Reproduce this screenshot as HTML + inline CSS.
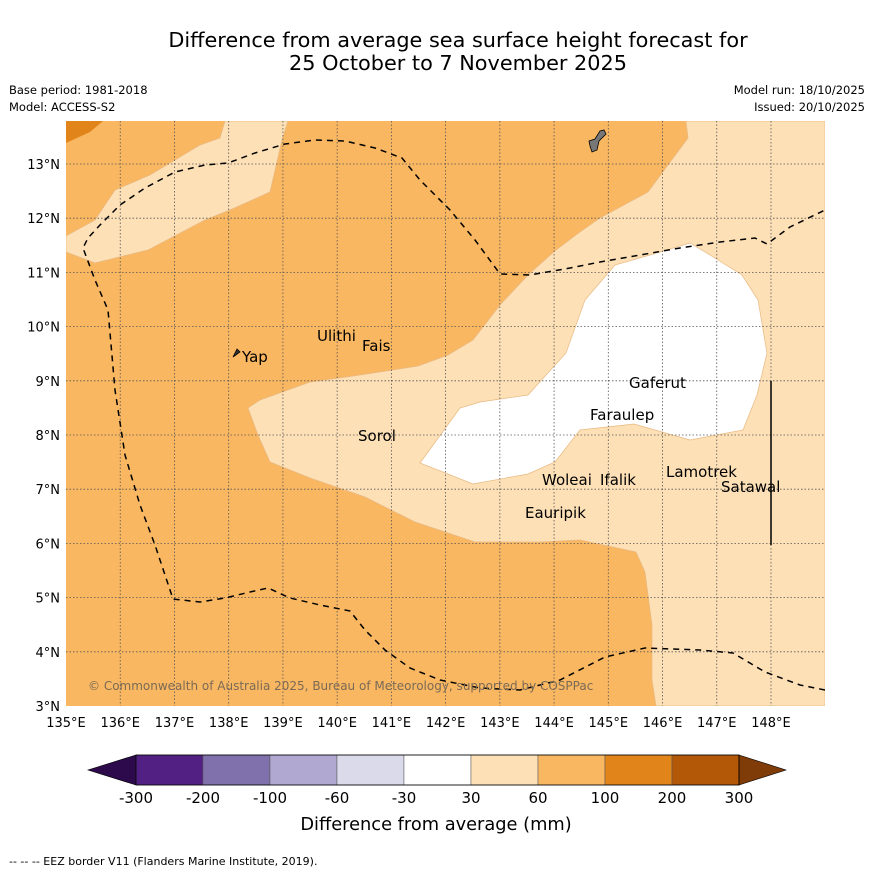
<!DOCTYPE html>
<html><head><meta charset="utf-8"><style>
body{margin:0;background:#fff;font-family:"Liberation Sans","DejaVu Sans",sans-serif;}
svg text{font-family:"DejaVu Sans","Liberation Sans",sans-serif;}
</style></head><body>
<svg width="873" height="873" viewBox="0 0 873 873">
<text x="458" y="47" font-size="20.8" text-anchor="middle">Difference from average sea surface height forecast for</text>
<text x="458" y="70" font-size="20.8" text-anchor="middle">25 October to 7 November 2025</text>
<text x="9" y="94" font-size="11.5">Base period: 1981-2018</text>
<text x="9" y="111" font-size="11.5">Model: ACCESS-S2</text>
<text x="865" y="94" font-size="11.5" text-anchor="end">Model run: 18/10/2025</text>
<text x="865" y="111" font-size="11.5" text-anchor="end">Issued: 20/10/2025</text>
<defs><clipPath id="mc"><rect x="66" y="121" width="759" height="585"/></clipPath></defs>
<g clip-path="url(#mc)">
<rect x="66" y="121" width="759" height="585" fill="#f9b762"/>
<polygon fill="#e1841a" points="66,121 103,121 90,132 66,143"/>
<polygon fill="#fde0b6" stroke="#e9b880" stroke-width="0.7" points="66,236 95,220 115,190 150,175 200,145 220,138 225,121 288,121 282,140 270,192 230,210 205,220 148,250 95,263 66,252"/>
<polygon fill="#fde0b6" stroke="#e9b880" stroke-width="0.7" points="686,121 688,138 648,192 600,218 580,232 556,250 528,275 500,305 473,340 448,355 418,366 360,375 310,382 260,400 248,408 258,435 270,462 310,478 365,497 415,522 475,542 540,542 580,540 636,552 645,572 652,625 652,680 656,706 825,706 825,121"/>
<polygon fill="#ffffff" stroke="#e9b880" stroke-width="0.7" points="585,300 615,265 650,255 690,243 710,255 742,275 758,300 767,353 757,395 743,430 690,440 634,424 580,430 555,462 528,474 473,484 420,463 460,408 480,402 528,395 566,353"/>
<g id="grid" stroke="#555" stroke-width="0.8" stroke-dasharray="1.5,2"></g>
<polyline fill="none" stroke="#000" stroke-width="1.5" stroke-dasharray="6,5" points="825,690 800,685 765,672 733,653 700,650 645,648 605,657 560,680 520,690 480,688 440,680 410,668 385,650 365,630 350,611 320,605 290,598 268,588 250,592 225,598 200,602 173,599 155,545 140,505 125,455 115,390 108,310 95,280 83,248 88,238 100,225 120,205 145,188 175,172 205,165 228,163 255,153 285,144 315,140 345,141 375,148 402,158 420,180 450,210 475,240 500,274 530,275 570,268 600,262 640,255 680,248 720,242 755,238 767,244 790,227 825,210"/>
<path d="M589,141 L595,139 L600,131 L604,130 L606,134 L599,141 L597,150 L592,152 L590,146 Z" fill="#777" stroke="#000" stroke-width="0.8"/>
<path d="M233,357 L237,349 L240,352 Z" fill="#333" stroke="#000" stroke-width="0.8"/>
<line x1="771" y1="381" x2="771" y2="545" stroke="#000" stroke-width="1.5"/>
<text x="88" y="690" font-size="12" fill="#7a6a55">© Commonwealth of Australia 2025, Bureau of Meteorology, supported by COSPPac</text>
<g font-size="15" fill="#000">
<text x="242" y="362">Yap</text>
<text x="317" y="341">Ulithi</text>
<text x="362" y="351">Fais</text>
<text x="358" y="441">Sorol</text>
<text x="629" y="388">Gaferut</text>
<text x="590" y="420">Faraulep</text>
<text x="542" y="485">Woleai</text>
<text x="600" y="485">Ifalik</text>
<text x="525" y="518">Eauripik</text>
<text x="666" y="477">Lamotrek</text>
<text x="721" y="492">Satawal</text>
</g>
</g>
<g id="axes" font-size="13"></g>
<g id="cbar"></g>
<text x="436" y="830" font-size="17.8" text-anchor="middle">Difference from average (mm)</text>
<text x="9" y="865" font-size="11">--  --  -- EEZ border V11 (Flanders Marine Institute, 2019).</text>
</svg>
<script>
const lonTicks=[135,136,137,138,139,140,141,142,143,144,145,146,147,148];
const latTicks=[3,4,5,6,7,8,9,10,11,12,13];
const cbColors=["#522083","#8070ab","#b0a8d1","#dadaeb","#ffffff","#fde0b6","#f9b762","#e1841a","#b35806"];
const cbLabels=["-300","-200","-100","-60","-30","30","60","100","200","300"];
const NS="http://www.w3.org/2000/svg";
const x=l=>66+(l-135)*54.23, y=t=>706-(t-3)*54.2;
function mk(tag,attrs,parent){const e=document.createElementNS(NS,tag);for(const k in attrs)e.setAttribute(k,attrs[k]);parent.appendChild(e);return e;}
const grid=document.getElementById('grid'),axes=document.getElementById('axes'),cb=document.getElementById('cbar');
lonTicks.forEach(l=>{
 if(l>135){const g=mk('line',{x1:x(l),x2:x(l),y1:121,y2:706},grid);
 
 }
 const t=mk('text',{x:x(l),y:727,'text-anchor':'middle'},axes);t.textContent=l+'°E';
 
 
});
latTicks.forEach(a=>{
 if(a>3){const g=mk('line',{x1:66,x2:825,y1:y(a),y2:y(a)},grid);
 
 }
 const t=mk('text',{x:60,y:y(a)+5,'text-anchor':'end'},axes);t.textContent=a+'°N';
 
 
});
const cx0=136,cw=67,cy=755,ch=30;
const lt=mk('polygon',{points:`${cx0},${cy} ${cx0},${cy+ch} 88,${cy+ch/2}`,fill:'#2d0a4b',stroke:'#000','stroke-width':0.6},cb);


cbColors.forEach((c,i)=>{const r=mk('rect',{x:cx0+i*cw,y:cy,width:cw,height:ch,fill:c,stroke:'#555','stroke-width':0.5},cb);
 
 });
const xe=cx0+cbColors.length*cw;
const rt=mk('polygon',{points:`${xe},${cy} ${xe},${cy+ch} 786,${cy+ch/2}`,fill:'#7f3b08',stroke:'#000','stroke-width':0.6},cb);


mk('rect',{x:cx0,y:cy,width:xe-cx0,height:ch,fill:'none',stroke:'#000','stroke-width':0.8},cb);
cbLabels.forEach((s,i)=>{const t=mk('text',{x:cx0+i*cw,y:803,'text-anchor':'middle','font-size':15},cb);t.textContent=s;
 
 });
</script>
</body></html>
